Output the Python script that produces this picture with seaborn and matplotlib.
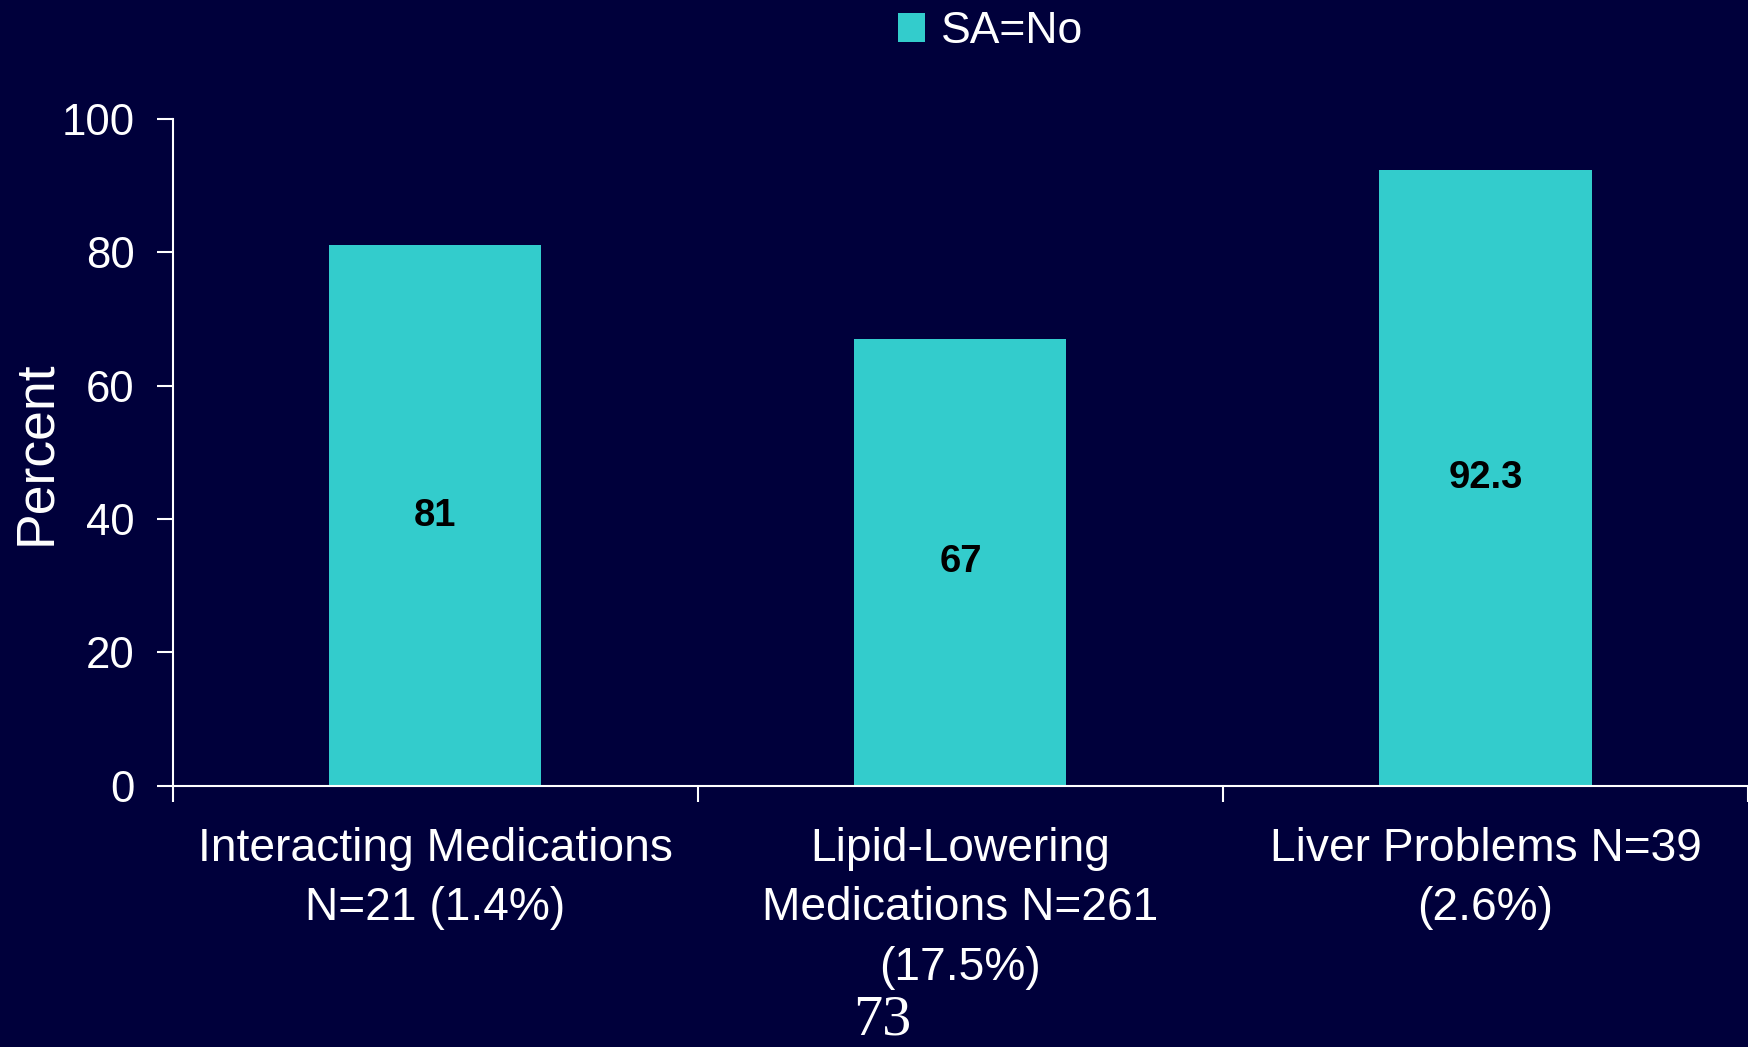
import matplotlib
matplotlib.use("Agg")
import matplotlib.pyplot as plt
from matplotlib.ticker import FixedLocator
import seaborn as sns
import pandas as pd

# Data
categories = [
    "Interacting Medications\nN=21 (1.4%)",
    "Lipid-Lowering\nMedications N=261\n(17.5%)",
    "Liver Problems N=39\n(2.6%)",
]
percent = [81, 67, 92.3]
value_labels = ["81", "67", "92.3"]
series_name = "SA=No"
y_ticks = [0, 20, 40, 60, 80, 100]
page_number = "73"

BG = "#00003B"
BAR = "#33CCCC"
FG = "white"

sns.set_style("ticks")
plt.rcParams["font.family"] = ["Liberation Sans", "DejaVu Sans"]

df = pd.DataFrame({"category": categories, "percent": percent,
                   "group": [series_name] * len(categories)})

fig = plt.figure(figsize=(17.48, 10.47), dpi=100, facecolor=BG)
ax = fig.add_axes([0.0989, 0.2493, 0.9011, 0.6375])
ax.set_facecolor(BG)

sns.barplot(data=df, x="category", y="percent", hue="group",
            palette=[BAR], width=0.404, linewidth=0, saturation=1,
            ax=ax, legend=True)

ax.set_xlim(-0.5, 2.5)
ax.set_ylim(0, 100)
ax.set_yticks(y_ticks)

# Value labels centred in each bar
for cont in ax.containers:
    ax.bar_label(cont, labels=value_labels, label_type="center",
                 fontsize=27.5, fontweight="bold", color="black")

# Spines
for side in ("top", "right"):
    ax.spines[side].set_visible(False)
for side in ("left", "bottom"):
    ax.spines[side].set_color(FG)
    ax.spines[side].set_linewidth(1.5)

# Y ticks
ax.tick_params(axis="y", colors=FG, labelsize=31.5, length=11.5, width=1.5,
               pad=16, direction="out")
# X: labels under bars, tick marks between categories
ax.tick_params(axis="x", which="major", length=0, labelsize=33.2,
               labelcolor=FG, pad=29.5)
ax.xaxis.set_minor_locator(FixedLocator([-0.5, 0.5, 1.5, 2.5]))
ax.tick_params(axis="x", which="minor", length=11.5, width=1.5, color=FG,
               direction="out")
for lab in ax.get_xticklabels():
    lab.set_linespacing(1.45)

ax.set_xlabel("")
ax.set_ylabel("Percent", fontsize=38.5, color=FG)
ax.yaxis.set_label_coords(-0.071, 0.5)

# Legend at the top centre
sns.move_legend(ax, loc="center", bbox_to_anchor=(0.5665, 0.970),
                bbox_transform=fig.transFigure, frameon=False, title=None,
                fontsize=32, handlelength=0.62, handleheight=0.62,
                handletextpad=0.35, borderaxespad=0)
for t in ax.get_legend().get_texts():
    t.set_color(FG)

# Page number
fig.text(0.5046, 0.0005, page_number, ha="center", va="bottom",
         fontsize=42, color=FG, family=["Liberation Serif", "DejaVu Serif"])

fig.savefig("out.png", dpi=100, facecolor=BG)
